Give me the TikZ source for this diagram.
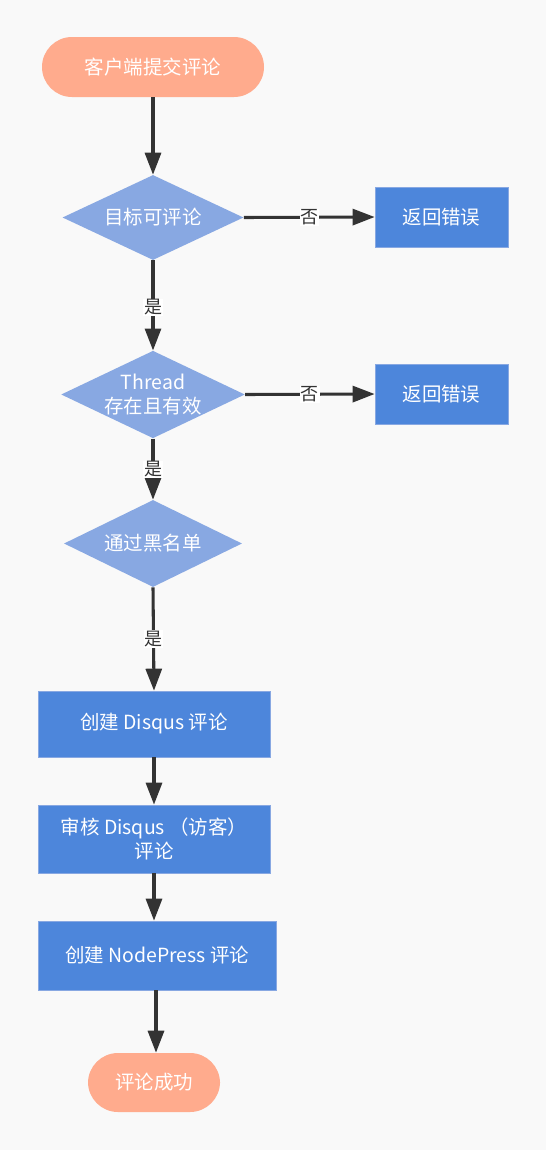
\documentclass[tikz,border=0pt]{standalone}
\usepackage{fontspec}
\setmainfont{Noto Sans CJK SC}
\usetikzlibrary{shapes.geometric,arrows.meta}
\definecolor{bg}{HTML}{F9F9F9}
\definecolor{salmon}{HTML}{FFAB8D}
\definecolor{dia}{HTML}{88A8E2}
\definecolor{boxc}{HTML}{4D86DB}
\definecolor{lin}{HTML}{333333}
\tikzset{
  base/.style={text=white, font=\fontsize{14.6}{18}\selectfont, align=center, inner sep=0pt},
  term/.style={base, fill=salmon, rounded corners=22.5pt},
  decis/.style={base, diamond, fill=dia, aspect=2.1},
  proc/.style={base, fill=boxc, draw=dia, line width=0.5pt},
  conn/.style={draw=lin, line width=2.3pt, -{Triangle[length=16.5pt,width=12pt]}},
  lbl/.style={fill=white, text=lin, font=\fontsize{13.5}{16}\selectfont, inner sep=0.5pt}
}
\begin{document}
\begin{tikzpicture}[x=0.75pt,y=-0.75pt]
\fill[bg] (0,0) rectangle (546,1150);
\useasboundingbox (0,0) rectangle (546,1150);
\node[term, minimum width=166.5pt, minimum height=45pt] (start) at (153,67) {客户端提交评论};
\node[decis, minimum width=135.75pt, minimum height=63.75pt] (d1) at (153,217.5) {目标可评论};
\node[proc, minimum width=99.75pt, minimum height=45pt] (e1) at (441.5,217) {返回错误};
\node[decis, minimum width=133.5pt, minimum height=63.75pt] (d2) at (153,394.5) {Thread\\存在且有效};
\node[proc, minimum width=99.75pt, minimum height=45pt] (e2) at (441.5,394) {返回错误};
\node[decis, minimum width=133.5pt, minimum height=65.25pt] (d3) at (153,543.5) {通过黑名单};
\node[proc, minimum width=174pt, minimum height=49.5pt] (c1) at (154,724) {创建 Disqus 评论};
\node[proc, minimum width=174pt, minimum height=51pt] (c2) at (154,839) {审核 Disqus （访客）\\评论};
\node[proc, minimum width=178.5pt, minimum height=51.75pt] (c3) at (157,955.5) {创建 NodePress 评论};
\node[term, minimum width=99pt, minimum height=44.25pt] (end) at (154,1082.5) {评论成功};

\draw[conn] (start) -- (d1);
\draw[conn] (d1.east) -- node[lbl] {否} (e1.west);
\draw[conn] (d1.south) -- node[lbl, pos=0.52] {是} (d2.north);
\draw[conn] (d2.east) -- node[lbl] {否} (e2.west);
\draw[conn] (d2.south) -- node[lbl, pos=0.5] {是} (d3.north);
\draw[conn] (d3.south) -- node[lbl, pos=0.5] {是} (c1.north);
\draw[conn] (c1) -- (c2);
\draw[conn] (c2) -- (c2.south |- c3.north);
\draw[conn] (c3.south -| end.north) ++(2,0) coordinate (cs) (cs) -- (end.north -| cs);
\end{tikzpicture}
\end{document}
